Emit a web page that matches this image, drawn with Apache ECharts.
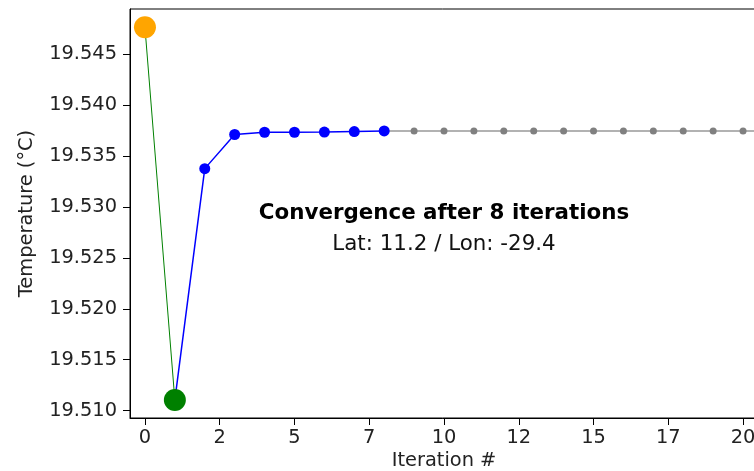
<!DOCTYPE html>
<html>
<head>
<meta charset="utf-8">
<title>Convergence</title>
<script src="https://cdn.jsdelivr.net/npm/echarts@6/dist/echarts.min.js"></script>
<style>
	html, body {margin:0; padding:0; background:#fff;}
	#main {width:754px; height:471px;}
</style>
</head>
<body>
<div id="main"></div>
<script>
// iterations 0..8 (0 = start, 1 = first guess, 2..8 = converging)
var iterX = [0, 1, 2, 3, 4, 5, 6, 7, 8];
var iterTemp = [19.54763, 19.51105, 19.53376, 19.53711, 19.53733, 19.53733, 19.53735, 19.53740, 19.53746];
// after convergence, value kept flat
var restX = [8, 9, 10, 11, 12, 13, 14, 15, 16, 17, 18, 19, 20, 21];
var restTemp = [19.53746, 19.53746, 19.53746, 19.53746, 19.53746, 19.53746, 19.53746, 19.53746, 19.53746, 19.53746, 19.53746, 19.53746, 19.53746, 19.53746];
var xTicks = [0, 2.5, 5, 7.5, 10, 12.5, 15, 17.5, 20];
var yTicks = [19.510, 19.515, 19.520, 19.525, 19.530, 19.535, 19.540, 19.545];
var titleText = 'Convergence after 8 iterations';
var subText = 'Lat: 11.2 / Lon: -29.4';

window.onload = function(){
	initPage();
};

function initPage(){
	buildEchart();
}

function pairs(xs, ys, from, to){
	var out = [];
	for(var i=from;i<to;i++){
		out.push([xs[i], ys[i]]);
	}
	return out;
}

function buildEchart(){
	var myChart = echarts.init(document.getElementById('main'), null, {renderer:'canvas'});
	var font = 'DejaVu Sans';
	var fs = 19.4;

	var option = {
		animation: false,
		textStyle: {fontFamily: font},
		grid: {
			left: 130, top: 9, bottom: 53, right: -4,
			show: true, borderColor: '#000', borderWidth: 1,
			containLabel: false,
			outerBoundsMode: 'none'
		},
		xAxis: {
			type: 'value',
			min: -0.5,
			max: 20.5,
			name: 'Iteration #',
			nameLocation: 'middle',
			nameGap: 33,
			nameTextStyle: {fontSize: fs, color: '#222', fontFamily: font},
			axisLine: {show: true, onZero: false, lineStyle: {color: '#000', width: 1}},
			axisTick: {show: true, length: 7, lineStyle: {color: '#000'}, customValues: xTicks},
			axisLabel: {
				fontSize: fs, color: '#222', fontFamily: font, margin: 10,
				customValues: xTicks,
				formatter: function(v){ return String(Math.floor(v)); }
			},
			splitLine: {show: false}
		},
		yAxis: {
			type: 'value',
			min: 19.50928,
			max: 19.54943,
			name: 'Temperature (°C)',
			nameLocation: 'middle',
			nameGap: 94,
			nameTextStyle: {fontSize: fs, color: '#222', fontFamily: font},
			axisLine: {show: true, onZero: false, lineStyle: {color: '#000', width: 1}},
			axisTick: {show: true, length: 7, lineStyle: {color: '#000'}, customValues: yTicks},
			axisLabel: {
				fontSize: fs, color: '#222', fontFamily: font, margin: 13,
				customValues: yTicks,
				formatter: function(v){ return v.toFixed(3); }
			},
			splitLine: {show: false}
		},
		graphic: [
			{type:'text', x: 444, y: 213, style:{text: titleText, font: 'bold 21.4px "DejaVu Sans"', fill:'#000', textAlign:'center', textVerticalAlign:'middle'}},
			{type:'text', x: 444, y: 244, style:{text: subText, font: '21.4px "DejaVu Sans"', fill:'#111', textAlign:'center', textVerticalAlign:'middle'}}
		],
		series: [
			{
				// flat tail after convergence
				type: 'line', data: pairs(restX, restTemp, 0, restX.length),
				symbol: 'none', lineStyle: {color: '#b2b2b2', width: 2}, z: 1
			},
			{
				type: 'scatter', data: pairs(restX, restTemp, 1, restX.length),
				symbolSize: 7, itemStyle: {color: '#808080', opacity: 1}, z: 2
			},
			{
				// start -> first guess
				type: 'line', data: pairs(iterX, iterTemp, 0, 2),
				symbol: 'none', lineStyle: {color: '#008000', width: 1}, z: 3
			},
			{
				type: 'line', data: pairs(iterX, iterTemp, 1, 9),
				symbol: 'none', lineStyle: {color: '#0000ff', width: 1.5}, z: 4
			},
			{
				type: 'scatter', data: pairs(iterX, iterTemp, 2, 9),
				symbolSize: 11, itemStyle: {color: '#0000ff', opacity: 1}, z: 5
			},
			{
				type: 'scatter', data: pairs(iterX, iterTemp, 0, 1),
				symbolSize: 22, itemStyle: {color: '#ffa500', opacity: 1}, z: 6
			},
			{
				type: 'scatter', data: pairs(iterX, iterTemp, 1, 2),
				symbolSize: 22, itemStyle: {color: '#008000', opacity: 1}, z: 7
			}
		]
	};

	myChart.setOption(option);
}
</script>
</body>
</html>
